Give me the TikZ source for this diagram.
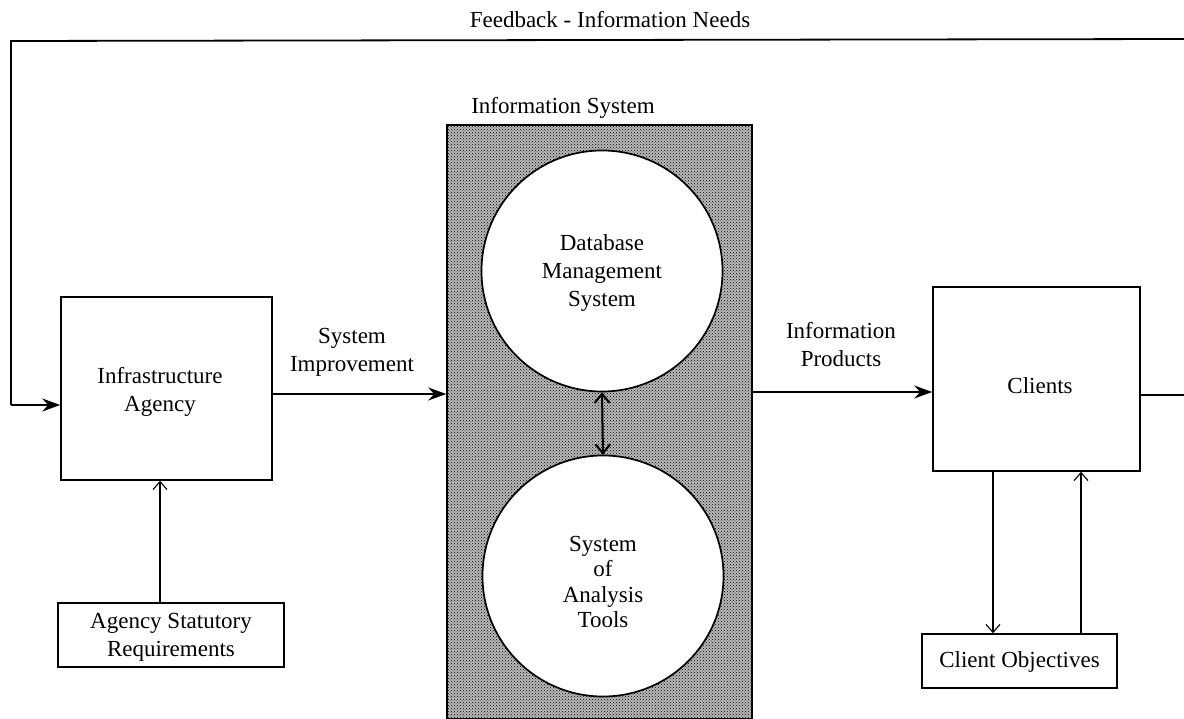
\documentclass[tikz,border=0pt]{standalone}
\usepackage{fontspec}
\setmainfont{Liberation Serif}
\usetikzlibrary{arrows.meta,patterns}
\begin{document}
\begin{tikzpicture}[x=1pt,y=-1pt,
  txt/.style={font=\fontsize{23}{28}\selectfont, align=center, inner sep=0pt},
  boxn/.style={draw, line width=1.5pt, inner sep=0pt},
  main/.style={line width=1.8pt, -{Stealth[length=18pt,width=13pt]}},
  thin/.style={line width=1.1pt, -{Straight Barb[length=8pt,width=14pt]}},
  circ/.style={circle, draw, fill=white, line width=1.7pt, minimum size=241pt, inner sep=0pt}]
\useasboundingbox (0,0) rectangle (1184,719);
% shaded information system
\node[draw, line width=1.5pt, fill=gray!55, postaction={pattern=crosshatch dots, pattern color=black}, minimum width=305pt, minimum height=594pt, inner sep=0pt] (is) at (599.5,422) {};
\node[txt] (islab) at (563,108) {Information System};
\node[circ] (dbms) at (602,271) {};
\node[txt, text width=200pt] at (602,273) {Database\\Management\\System};
\node[circ] (sat) at (603,576) {};
\node[txt, text width=200pt, font=\fontsize{23}{25.5}\selectfont] at (603,582) {System\\of\\Analysis\\Tools};
% boxes
\node[boxn, minimum width=211pt, minimum height=183pt] (agency) at (166.5,388.5) {};
\node[txt] at (160,392) {Infrastructure\\Agency};
\node[boxn, minimum width=226pt, minimum height=64pt] (asr) at (171,635) {};
\node[txt] at (171,637) {Agency Statutory\\Requirements};
\node[boxn, minimum width=207pt, minimum height=184pt] (clients) at (1036.5,379) {};
\node[txt] at (1040,386) {Clients};
\node[boxn, minimum width=195pt, minimum height=54pt] (cobj) at (1019.5,661) {};
\node[txt] at (1019.5,662) {Client Objectives};
% labels
\node[txt] (lsi) at (352,352) {System\\Improvement};
\node[txt] (lip) at (841,345) {Information\\Products};
\node[txt] (lfb) at (610,20) {Feedback - Information Needs};
% connectors
\draw[main] (agency.east |- 0,394) -- (is.west |- 0,394);
\draw[main] (is.east |- 0,392) -- (clients.west |- 0,392);
\coordinate (fbR) at (1184,395);
\coordinate (fbTR) at (1184,39);
\coordinate (fbTL) at (11,41);
\coordinate (fbBL) at (11,405);
\draw[line width=1.8pt] (clients.east |- fbR) -- (fbR);
\draw[line width=1.8pt] (fbTR) -- (fbTL) -- (fbBL);
\draw[main] (fbBL) -- (fbBL -| agency.west);
\draw[line width=2pt, {Straight Barb[length=9pt,width=15pt]}-{Straight Barb[length=9pt,width=15pt]}] (dbms.south) -- (sat.north);
\draw[thin] (asr.north -| 160,0) -- (agency.south -| 160,0);
\draw[thin] (clients.south -| 993,0) -- (cobj.north -| 993,0);
\draw[thin] (cobj.north -| 1081,0) -- (clients.south -| 1081,0);
\end{tikzpicture}
\end{document}
